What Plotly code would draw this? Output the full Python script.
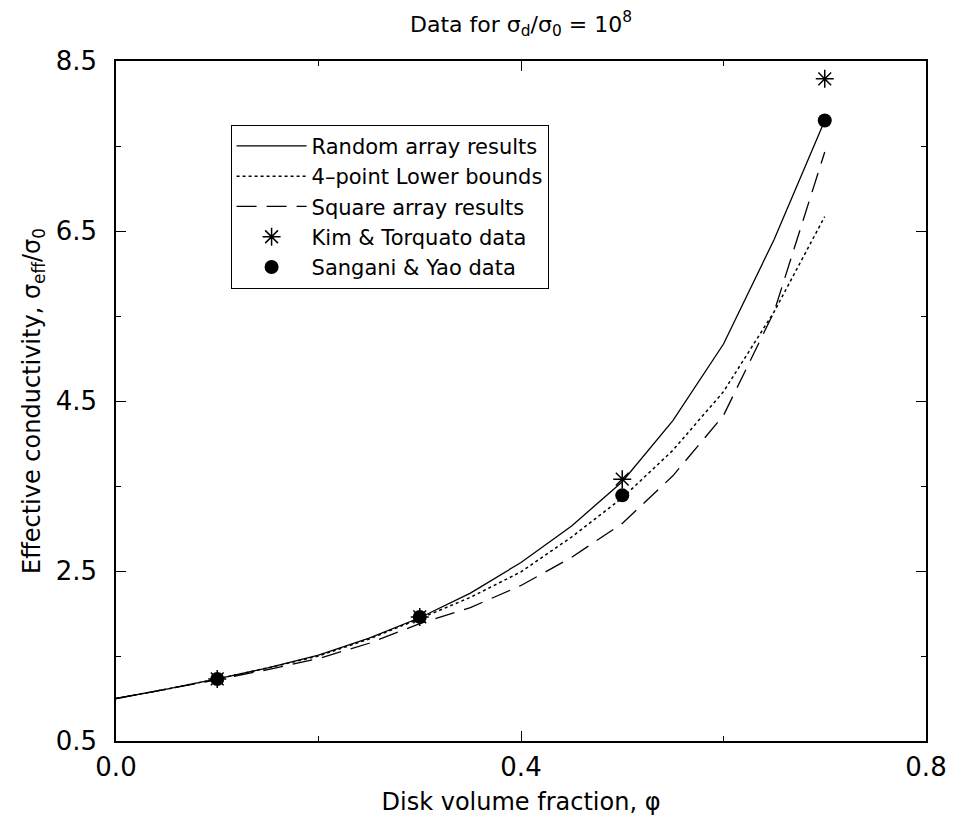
import plotly.graph_objects as go

phi = [0.0, 0.05, 0.1, 0.15, 0.2, 0.25, 0.3, 0.35, 0.4, 0.45, 0.5, 0.55, 0.6, 0.65, 0.7]
random_array = [1.0, 1.11, 1.23, 1.36, 1.51, 1.71, 1.95, 2.24, 2.60, 3.03, 3.55, 4.27, 5.17, 6.40, 7.80]
lower_bound = [1.0, 1.11, 1.23, 1.36, 1.50, 1.70, 1.94, 2.19, 2.49, 2.90, 3.36, 3.92, 4.61, 5.55, 6.67]
square_array = [1.0, 1.11, 1.22, 1.34, 1.47, 1.65, 1.88, 2.07, 2.33, 2.66, 3.06, 3.62, 4.33, 5.55, 7.43]

data_phi = [0.1, 0.3, 0.5, 0.7]
kim_torquato = [1.23, 1.96, 3.58, 8.29]
sangani_yao = [1.23, 1.96, 3.39, 7.80]

x_ticks = [0.0, 0.4, 0.8]
y_ticks = [0.5, 2.5, 4.5, 6.5, 8.5]

fig = go.Figure()
fig.add_trace(go.Scatter(x=phi, y=random_array, mode="lines", name="Random array results",
                         line=dict(color="black", width=1.3)))
fig.add_trace(go.Scatter(x=phi, y=lower_bound, mode="lines", name="4–point Lower bounds",
                         line=dict(color="black", width=1.5, dash="dot")))
fig.add_trace(go.Scatter(x=phi, y=square_array, mode="lines", name="Square array results",
                         line=dict(color="black", width=1.3, dash="20px,10px")))
fig.add_trace(go.Scatter(x=data_phi, y=kim_torquato, mode="markers", name="Kim & Torquato data",
                         marker=dict(symbol="asterisk-open", size=15, color="black",
                                     line=dict(color="black", width=1.5))))
fig.add_trace(go.Scatter(x=data_phi, y=sangani_yao, mode="markers", name="Sangani & Yao data",
                         marker=dict(symbol="circle", size=14, color="black")))

font_family = "DejaVu Sans, Liberation Sans, Arial, sans-serif"
W, H = 951, 815
fig.update_layout(
    width=W, height=H,
    margin=dict(l=108, r=23, t=53, b=79),
    paper_bgcolor="white", plot_bgcolor="white",
    font=dict(family=font_family, color="black", size=20),
    title=dict(text="Data for σ<sub>d</sub>/σ<sub>0</sub> = 10<sup>8</sup>",
               xref="paper", x=0.5, xanchor="center",
               yref="container", y=1 - 16 / H, yanchor="middle",
               font=dict(size=22, family=font_family, color="black")),
    showlegend=True,
    legend=dict(x=(232 - 116) / 820, y=(744 - 125) / 683, xanchor="left", yanchor="top",
                bgcolor="white", bordercolor="black", borderwidth=1,
                itemwidth=70,
                font=dict(size=21, family=font_family, color="black"),
                tracegroupgap=0),
    xaxis=dict(range=[0, 0.8], tickvals=x_ticks, tickformat=".1f",
               showline=True, linecolor="black", linewidth=1.5, mirror="ticks",
               ticks="inside", ticklen=10, tickcolor="black", showgrid=False, zeroline=False,
               minor=dict(dtick=0.2, tick0=0, ticks="inside", ticklen=5, tickcolor="black", showgrid=False),
               tickfont=dict(size=26), ticklabelstandoff=2,
               title=dict(text="Disk volume fraction, φ", font=dict(size=24), standoff=12)),
    yaxis=dict(range=[0.5, 8.5], tickvals=y_ticks, tickformat=".1f",
               showline=True, linecolor="black", linewidth=1.5, mirror="ticks",
               ticks="inside", ticklen=10, tickcolor="black", showgrid=False, zeroline=False,
               minor=dict(dtick=1, tick0=0.5, ticks="inside", ticklen=5, tickcolor="black", showgrid=False),
               tickfont=dict(size=26), ticklabelstandoff=12,
               title=dict(text="Effective conductivity, σ<sub>eff</sub>/σ<sub>0</sub>",
                          font=dict(size=24), standoff=8)),
)

fig.write_html("out.html")
